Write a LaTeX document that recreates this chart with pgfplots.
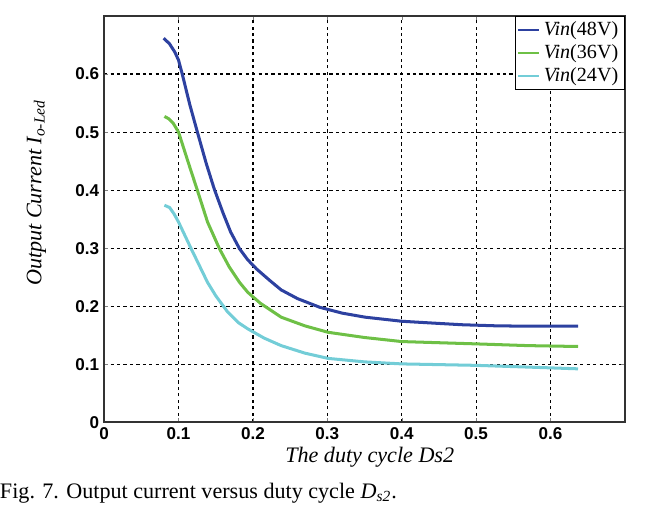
\documentclass[border=0pt]{standalone}
\usepackage{fontspec}
\setmainfont{Liberation Serif}
\newfontfamily\ticksans{Liberation Sans}
\usepackage{pgfplots}
\pgfplotsset{compat=1.18}
\definecolor{c48}{RGB}{45,65,160}
\definecolor{c36}{RGB}{110,192,70}
\definecolor{c24}{RGB}{115,205,215}

\begin{document}
\begin{tikzpicture}
\begin{axis}[
  width=259pt, height=202pt, scale only axis,
  xmin=0, xmax=0.7, ymin=0, ymax=0.7,
  xtick={0,0.1,...,0.61}, ytick={0,0.1,...,0.61},
  xticklabels={0,0.1,0.2,0.3,0.4,0.5,0.6},
  yticklabels={0,0.1,0.2,0.3,0.4,0.5,0.6},
  ticklabel style={font=\ticksans\bfseries\fontsize{8.5}{10}\selectfont},
  /pgf/number format/assume math mode=true,
  xticklabel style={yshift=1pt},
  yticklabel style={xshift=1pt},
  major tick length=2pt,
  grid=major,
  major grid style={black, line width=0.6pt, dash pattern=on 1.6pt off 1.6pt},
  axis line style={line width=0.9pt, black!80},
  xlabel={\textit{The duty cycle Ds2}},
  ylabel={\textit{Output Current I\textsubscript{o-Led}}},
  label style={font=\fontsize{11}{13}\selectfont},
  xlabel style={at={(axis description cs:0.51,0)}, anchor=center, yshift=-17.5pt},
  ylabel style={at={(axis description cs:-0.13,0.565)}, anchor=center},
  legend style={at={(1,1)}, anchor=north east, font=\fontsize{10}{11}\selectfont,
    draw=black, line width=0.6pt, inner xsep=1pt, inner ysep=0.5pt, row sep=-1pt},
  legend image code/.code={\draw[#1, line width=1.2pt] (0pt,0pt) -- (10pt,0pt);},
  legend cell align=left,
  every axis plot/.append style={line width=1.5pt},
]
\addplot[c48] coordinates {
(0.080,0.662) (0.088,0.652) (0.095,0.638) (0.100,0.624) (0.105,0.600)
(0.115,0.548) (0.126,0.497) (0.137,0.447) (0.148,0.402) (0.160,0.360)
(0.170,0.328) (0.182,0.299) (0.193,0.280) (0.205,0.264) (0.222,0.245)
(0.238,0.228) (0.260,0.213) (0.290,0.198) (0.320,0.188) (0.351,0.181)
(0.400,0.174) (0.440,0.171) (0.481,0.168) (0.530,0.166) (0.576,0.1655)
(0.637,0.1655)};
\addlegendentry{\textit{Vin}(48V)}
\addplot[c36] coordinates {
(0.081,0.527) (0.087,0.523) (0.093,0.515) (0.100,0.500) (0.113,0.448)
(0.126,0.397) (0.139,0.345) (0.155,0.299) (0.168,0.268) (0.182,0.241)
(0.193,0.224) (0.210,0.205) (0.238,0.181) (0.270,0.166) (0.301,0.155)
(0.350,0.146) (0.400,0.139) (0.450,0.137) (0.500,0.135) (0.570,0.132)
(0.637,0.1305)};
\addlegendentry{\textit{Vin}(36V)}
\addplot[c24] coordinates {
(0.081,0.374) (0.088,0.370) (0.094,0.359) (0.100,0.345) (0.117,0.299)
(0.128,0.270) (0.139,0.241) (0.150,0.218) (0.166,0.190) (0.180,0.172)
(0.193,0.161) (0.215,0.145) (0.238,0.132) (0.270,0.119) (0.301,0.110)
(0.350,0.104) (0.400,0.1005) (0.500,0.098) (0.570,0.095) (0.637,0.092)};
\addlegendentry{\textit{Vin}(24V)}
\end{axis}
\node[anchor=base west, font=\fontsize{11}{13}\selectfont, inner sep=0pt]
  at ([xshift=-52pt, yshift=-38pt]current axis.south west)
  {Fig. 7. Output current versus duty cycle \textit{D\textsubscript{s2}}.};
\path ([xshift=10.5pt, yshift=8pt]current axis.north east);
\path ([yshift=-42.5pt]current axis.south west);
\end{tikzpicture}
\end{document}
